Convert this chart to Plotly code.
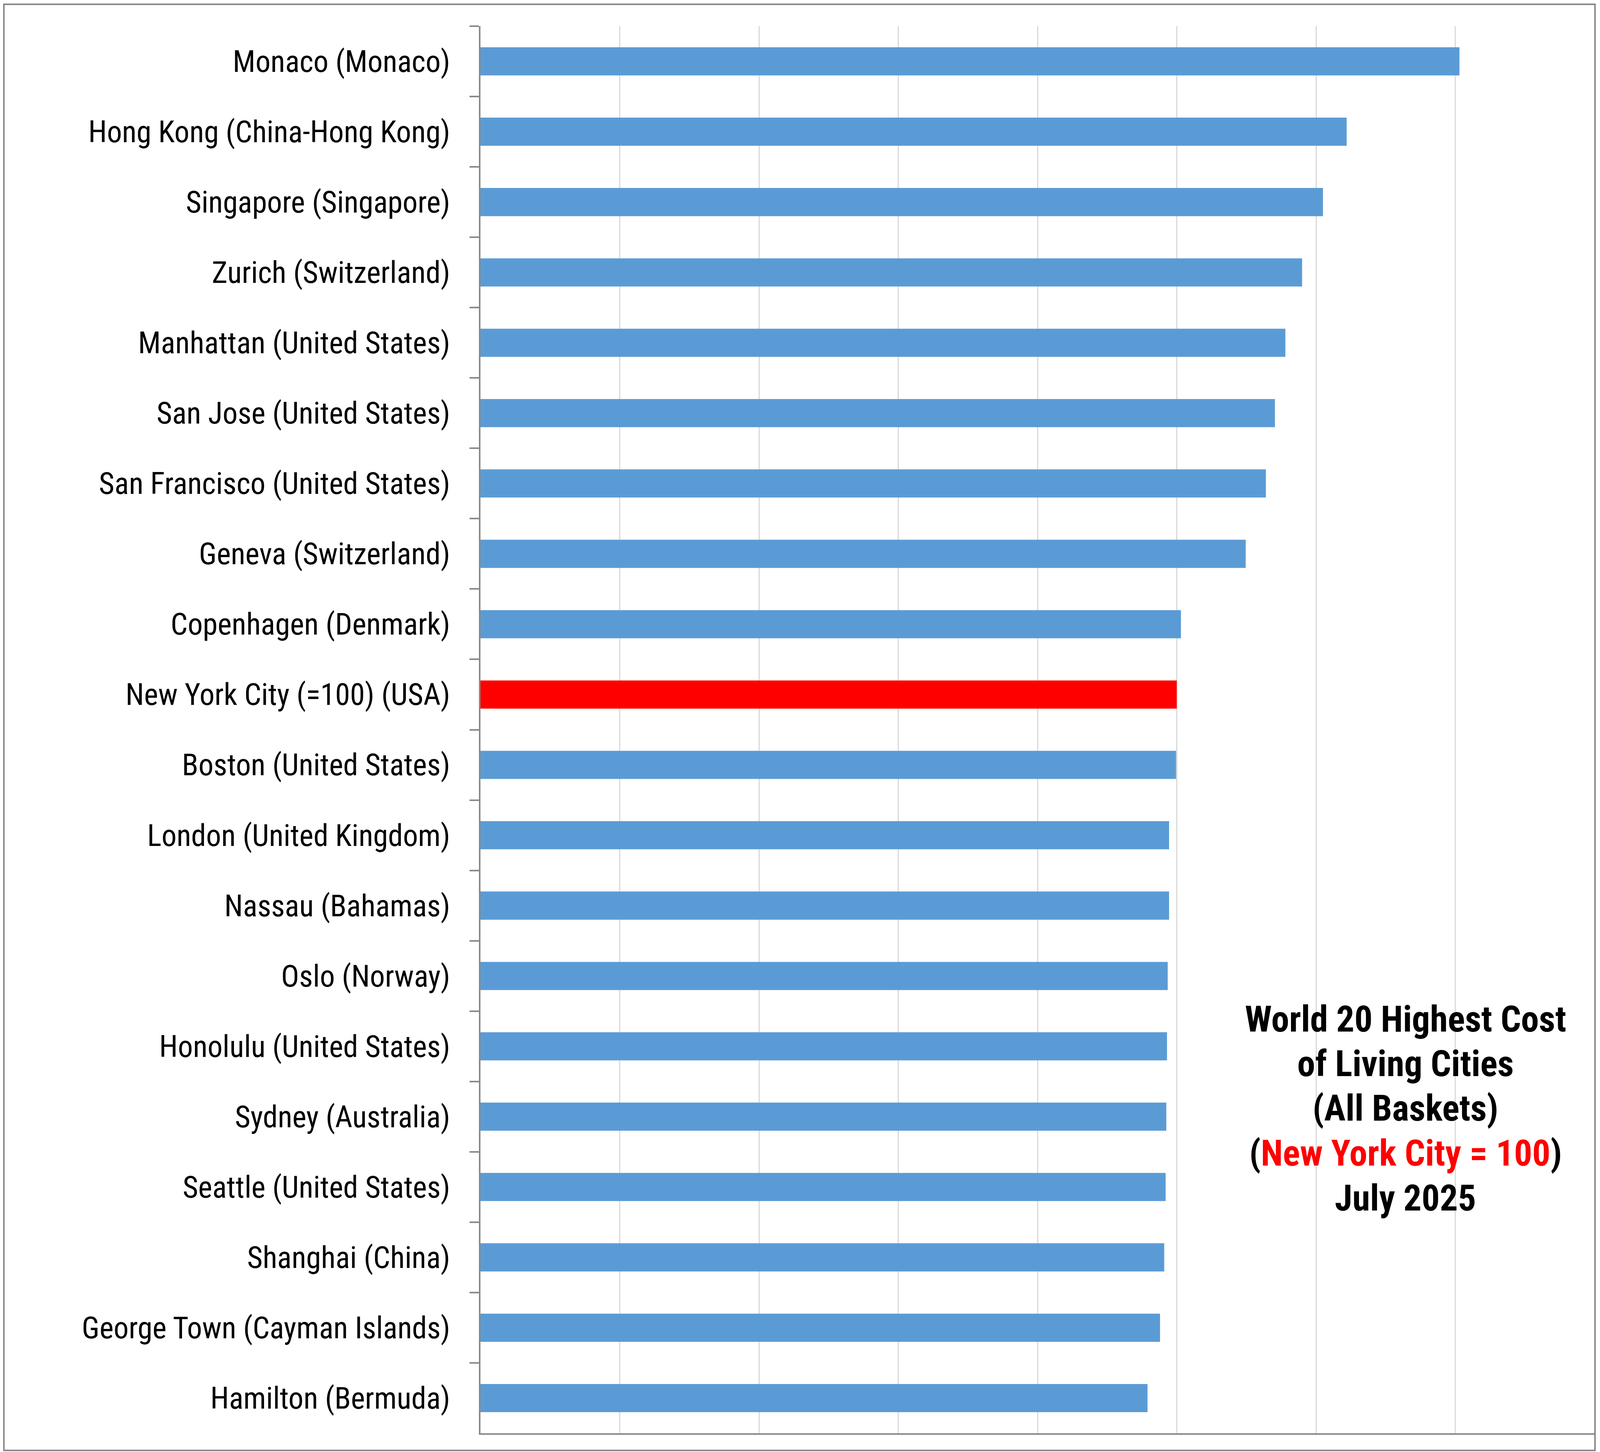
import plotly.graph_objects as go

# Cost of living index, New York City = 100
cities = [
    "Monaco (Monaco)",
    "Hong Kong (China-Hong Kong)",
    "Singapore (Singapore)",
    "Zurich (Switzerland)",
    "Manhattan (United States)",
    "San Jose (United States)",
    "San Francisco (United States)",
    "Geneva (Switzerland)",
    "Copenhagen (Denmark)",
    "New York City (=100) (USA)",
    "Boston (United States)",
    "London (United Kingdom)",
    "Nassau (Bahamas)",
    "Oslo (Norway)",
    "Honolulu (United States)",
    "Sydney (Australia)",
    "Seattle (United States)",
    "Shanghai (China)",
    "George Town (Cayman Islands)",
    "Hamilton (Bermuda)",
]
index_values = [140.6, 124.4, 121.0, 118.0, 115.6, 114.1, 112.8, 109.9, 100.6, 100.0,
                99.9, 98.9, 98.9, 98.7, 98.6, 98.5, 98.4, 98.2, 97.6, 95.8]
highlight = "New York City (=100) (USA)"

title_lines = [
    "World 20 Highest Cost",
    "of Living Cities",
    "(All Baskets)",
    "(<span style='color:#FF0000'>New York City = 100</span>)",
    "July 2025",
]

BLUE = "#5B9BD5"
RED = "#FF0000"
AXIS = "#898989"
NARROW = "Roboto Condensed, Liberation Sans Narrow, Arial Narrow, sans-serif"

# layout worked out on a 4242 x 3716 canvas, then fitted to the visible page
REF_W, REF_H = 4242, 3716
W, H = 4080, 3708
sx, sy = W / REF_W, H / REF_H

L = round(1271 * sx)
R = W - round(4236 * sx)
T = round(59 * sy)
B = H - round(3668 * sy)
pw, ph = W - L - R, H - T - B


def px(x):
    return (x * sx - L) / pw


def py(y):
    return (H - B - y * sy) / ph


colors = [RED if c == highlight else BLUE for c in cities]

fig = go.Figure(go.Bar(
    x=index_values, y=cities, orientation="h",
    marker=dict(color=colors, line=dict(width=0)),
    hovertemplate="%{y}: %{x}<extra></extra>",
))

# title block, one annotation per line to keep tight line spacing
line_y = [2606, 2720, 2835, 2950, 3065]
for txt, yy in zip(title_lines, line_y):
    fig.add_annotation(
        text=f"<b>{txt}</b>", x=px(3733), y=py(yy),
        xref="paper", yref="paper", xanchor="center", yanchor="middle",
        showarrow=False, font=dict(family=NARROW, size=92, color="black"),
    )

# outer frame around the whole picture
fig.add_shape(
    type="rect", xref="paper", yref="paper",
    x0=px(2), x1=px(4237), y0=py(3712), y1=py(3),
    line=dict(color=AXIS, width=4), layer="above",
)

fig.update_layout(
    width=W, height=H,
    margin=dict(l=L, r=R, t=T, b=B),
    paper_bgcolor="white", plot_bgcolor="white",
    bargap=0.6, showlegend=False,
    font=dict(family=NARROW, color="black"),
    xaxis=dict(
        range=[0, 160], dtick=20, showticklabels=False, ticks="",
        showgrid=True, gridcolor="#D9D9D9", gridwidth=3,
        zeroline=False, showline=True, linecolor=AXIS, linewidth=4,
    ),
    yaxis=dict(
        type="category", range=[len(cities) - 0.5, -0.5],
        showgrid=False, showline=True, linecolor=AXIS, linewidth=4,
        ticks="outside", tickson="boundaries", ticklen=24, tickwidth=4,
        tickcolor=AXIS, ticklabelstandoff=58,
        tickfont=dict(family=NARROW, size=77, color="black"),
    ),
)

fig.write_html("out.html")
